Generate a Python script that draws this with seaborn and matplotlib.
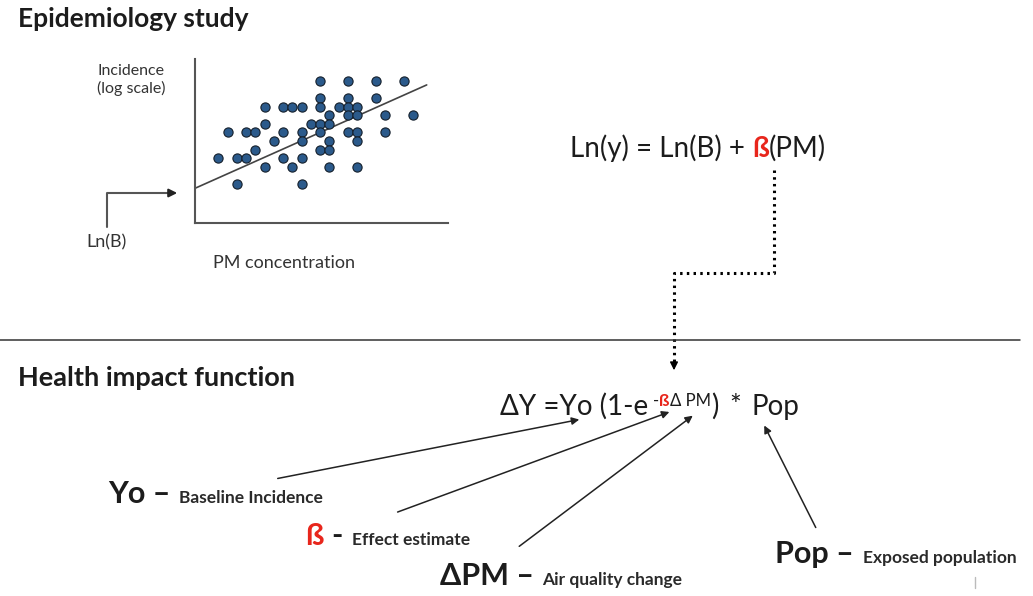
import numpy as np
import pandas as pd
import seaborn as sns
import matplotlib.pyplot as plt

# scatter points (grid units)
pm_conc = [12, 15, 18, 21,
           12, 15, 18,
           6, 8, 9, 10, 12, 14, 15, 16,
           13, 15, 16, 19, 22,
           6, 11, 12, 13,
           2, 4, 5, 8, 10, 12, 15, 16, 19,
           7, 10, 13, 16,
           5, 12, 13,
           1, 3, 4, 8, 10,
           6, 9, 13, 16,
           3, 10]
incidence = [13] * 4 + [11] * 3 + [10] * 8 + [9] * 5 + [8] * 4 + [7] * 9 + [6] * 4 + [5] * 3 + [4] * 5 + [3] * 4 + [1] * 2
trend_x = [-1.5, 23.5]
trend_y = [0.54, 12.5]

df = pd.DataFrame({'pm': pm_conc, 'inc': incidence})

sns.set_theme(style='white')
plt.rcParams['font.family'] = ['Lato', 'DejaVu Sans']

W, H = 1033, 596
fig = plt.figure(figsize=(W / 100, H / 100), dpi=100)
bg = fig.add_axes([0, 0, 1, 1])
bg.set_xlim(0, W)
bg.set_ylim(H, 0)
bg.axis('off')

dark = '#1c1c1c'
red = '#e8261c'

# scatter panel
sc = fig.add_axes([195 / W, 1 - 223 / H, 253 / W, 164 / H])
sns.scatterplot(data=df, x='pm', y='inc', ax=sc, s=44, color='#2b5a8b',
                edgecolor='#15202c', linewidth=0.8, zorder=3)
sns.lineplot(x=trend_x, y=trend_y, ax=sc, color='#444444', lw=1.2)
sc.set_xlim(-1.51, 25.8)
sc.set_ylim(-3.48, 15.5)
sc.set_xticks([])
sc.set_yticks([])
sc.set_xlabel('')
sc.set_ylabel('')
sns.despine(ax=sc)
for sp in ['left', 'bottom']:
    sc.spines[sp].set_color('#555555')
    sc.spines[sp].set_linewidth(1.5)

renderer = fig.canvas.get_renderer()


def chain(x, y, parts):
    for s, kw in parts:
        if s is None:
            x += kw
            continue
        t = bg.text(x, y, s, va='baseline', ha='left', **kw)
        x += t.get_window_extent(renderer=renderer).width
    return x


# headings
bg.text(18, 27, 'Epidemiology study', fontsize=19, fontweight='bold', color=dark, va='baseline')
bg.text(18, 386, 'Health impact function', fontsize=19.5, fontweight='bold', color=dark, va='baseline')

# scatter labels
bg.text(131, 80, 'Incidence\n(log scale)', fontsize=11.5, color='#333333', ha='center', va='center', linespacing=1.25)
bg.text(107, 242, 'Ln(B)', fontsize=13, color='#333333', ha='center', va='center')
bg.text(213, 263, 'PM concentration', fontsize=13, color='#333333', ha='left', va='center')

bg.plot([107, 107, 170], [227, 193, 193], color='#555555', lw=1.5)
bg.annotate('', xy=(180, 193), xytext=(168, 193),
            arrowprops=dict(arrowstyle='-|>', color='#222222', lw=1.5, mutation_scale=12))

# Ln formula
f1 = dict(fontsize=20, color=dark)
chain(570, 157, [('Ln(y) = Ln(B) + ', f1),
                 ('ß', dict(fontsize=20, color=red, fontweight='bold')),
                 ('(PM)', f1)])

# dotted connector
bg.plot([774, 774, 674, 674], [170, 273, 273, 362], color='black', lw=2.2,
        linestyle=(0, (0.8, 1.4)))
bg.annotate('', xy=(674, 373), xytext=(674, 362),
            arrowprops=dict(arrowstyle='-|>', color='black', lw=1, mutation_scale=12))

# divider
bg.plot([0, 1020], [340, 340], color='#333333', lw=1.1)

# health impact function
f2 = dict(fontsize=20, color=dark)
fs = dict(fontsize=12, color=dark)
x = chain(500, 415, [('ΔY =Yo (1-e', f2), (None, 5)])
x = chain(x, 406, [('-', fs), ('ß', dict(fontsize=12.5, color=red, fontweight='bold')), ('Δ PM', fs)])
chain(x, 415, [(')', f2), (None, 11), ('*', f2), (None, 11), ('Pop', f2)])

# arrows to the formula
arrows = [((275, 479), (582, 419)),
          ((395, 513), (672, 411)),
          ((517, 548), (695, 414)),
          ((817, 530), (763, 423))]
for start, tip in arrows:
    bg.annotate('', xy=tip, xytext=start,
                arrowprops=dict(arrowstyle='-|>', color='#222222', lw=1.1, mutation_scale=11))

big = dict(fontsize=22, fontweight='bold', color=dark)
small = dict(fontsize=12.5, fontweight='bold', color='#2a2a2a')
chain(108, 503, [('Yo –', big), (None, 9), ('Baseline Incidence', small)])
chain(305, 545, [('ß', dict(fontsize=22, fontweight='bold', color=red)), (None, 8),
                 ('-', big), (None, 9), ('Effect estimate', small)])
chain(440, 585, [('ΔPM –', big), (None, 8), ('Air quality change', small)])
chain(775, 563, [('Pop –', big), (None, 9), ('Exposed population', small)])
bg.plot([975, 975], [577, 588], color='#bbbbbb', lw=1)

fig.savefig('out.png', dpi=100)
